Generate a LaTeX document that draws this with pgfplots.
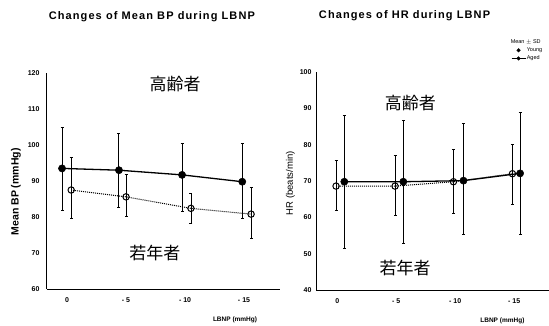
\documentclass[border=0pt]{standalone}
\usepackage{pgfplots}
\pgfplotsset{compat=1.18}
\usepackage{fontspec}
\setmainfont{Liberation Sans}
\newfontfamily\cjk{Noto Sans CJK JP}
\begin{document}
\begin{tikzpicture}
\path[use as bounding box] (0pt,0pt) rectangle (549pt,325pt);
\pgfplotsset{
  base/.style={
    scale only axis, width=233pt, anchor=south west,
    axis lines=left, axis line style={-, line width=1pt},
    xtick={0,1,2,3}, xticklabels={0,- 5,- 10,- 15},
    major tick length=0pt,
    ticklabel style={font=\fontsize{7}{8}\selectfont\bfseries},
    /pgf/number format/assume math mode=true,
    xticklabel style={yshift=-5pt},
    clip=false,
    title style={anchor=center, yshift=0pt, font=\fontsize{11}{12}\selectfont\bfseries\addfontfeature{LetterSpace=10}},
    xlabel style={anchor=center, font=\fontsize{6.5}{7}\selectfont\bfseries},
    ylabel style={anchor=center, rotate=0},
  },
  aged/.style={black, line width=1.3pt, mark=*, mark size=3.6pt, mark options={solid, fill=black, line width=0.5pt},
    error bars/.cd, y dir=both, y explicit, error bar style={line width=1pt, solid}, error mark options={rotate=90, mark size=1.5pt, line width=0.6pt}, /pgfplots/.cd},
  young/.style={black, line width=1pt, densely dotted, mark=o, mark size=3.2pt, mark options={solid, fill=white, line width=1pt},
    error bars/.cd, y dir=both, y explicit, error bar style={line width=0.6pt, solid}, error mark options={rotate=90, mark size=1.5pt, line width=0.5pt}, /pgfplots/.cd},
}
% Left chart
\begin{axis}[base, at={(47pt,36pt)}, height=216pt,
  xmin=-0.34, xmax=3.61, ymin=60, ymax=120, ytick={60,70,...,120},
  yticklabel style={xshift=-4pt},
  title={Changes of Mean BP during LBNP}, title style={at={(axis description cs:0.45,1.235)}},
  xlabel={LBNP (mmHg)}, xlabel style={at={(axis description cs:0.807,-0.145)}},
  ylabel={Mean BP (mmHg)}, ylabel style={at={(axis description cs:-0.133,0.45)}, font=\fontsize{10.5}{11}\selectfont\bfseries},
]
\addplot[forget plot, young] coordinates {
  (0.07,87.5) += (0,9.0) -= (0,7.9)
  (1.00,85.6) += (0,6.4) -= (0,5.5)
  (2.10,82.4) += (0,4.2) -= (0,4.0)
  (3.12,80.8) += (0,7.4) -= (0,6.7)
};
\addplot[forget plot, aged] coordinates {
  (-0.085,93.5) += (0,11.5) -= (0,11.5)
  (0.88,93.0) += (0,10.2) -= (0,10.3)
  (1.95,91.7) += (0,8.9) -= (0,10.2)
  (2.97,89.8) += (0,10.7) -= (0,10.2)
};
\node[font=\cjk\fontsize{17}{17}\selectfont] at (axis cs:1.83,117.0) {高齢者};
\node[font=\cjk\fontsize{17}{17}\selectfont] at (axis cs:1.49,70.0) {若年者};
\end{axis}
% Right chart
\begin{axis}[base, at={(316pt,35pt)}, height=218pt,
  xmin=-0.36, xmax=3.59, ymin=40, ymax=100, ytick={40,50,...,100},
  yticklabel style={xshift=-1pt},
  title={Changes of HR during LBNP}, title style={at={(axis description cs:0.38,1.23)}},
  xlabel={LBNP (mmHg)}, xlabel style={at={(axis description cs:0.80,-0.14)}},
  ylabel={HR (beats/min)}, ylabel style={at={(axis description cs:-0.11,0.49)}, font=\fontsize{9.5}{10}\selectfont},
  legend style={at={(axis description cs:0.975,1.045)}, anchor=south east, draw=none, fill=none,
    font=\fontsize{5.5}{6}\selectfont, row sep=1.2pt, inner sep=0pt, nodes={inner sep=0.8pt}},
  legend cell align=left,
]
\addplot[forget plot, young] coordinates {
  (-0.02,68.6) += (0,7.2) -= (0,6.6)
  (0.98,68.6) += (0,8.6) -= (0,7.9)
  (1.97,69.8) += (0,9.0) -= (0,8.7)
  (2.97,72.0) += (0,8.0) -= (0,8.3)
};
\addplot[forget plot, aged] coordinates {
  (0.12,69.8) += (0,18.4) -= (0,18.3)
  (1.12,69.8) += (0,16.8) -= (0,16.9)
  (2.14,70.1) += (0,15.8) -= (0,14.9)
  (3.10,72.1) += (0,16.7) -= (0,16.9)
};
\addlegendimage{empty legend}
\addlegendentry{\hspace{-16pt}Mean $\pm$ SD}
\addlegendimage{legend image code/.code={\draw[black,fill=black] (7pt,0pt) circle (1.8pt);}}
\addlegendentry{Young}
\addlegendimage{legend image code/.code={\draw[black,line width=0.8pt] (0pt,0pt) -- (14pt,0pt); \fill[black] (7pt,0pt) circle (1.8pt);}}
\addlegendentry{Aged}
\node[font=\cjk\fontsize{17}{17}\selectfont] at (axis cs:1.24,91.5) {高齢者};
\node[font=\cjk\fontsize{17}{17}\selectfont] at (axis cs:1.15,46.0) {若年者};
\end{axis}
\end{tikzpicture}
\end{document}
